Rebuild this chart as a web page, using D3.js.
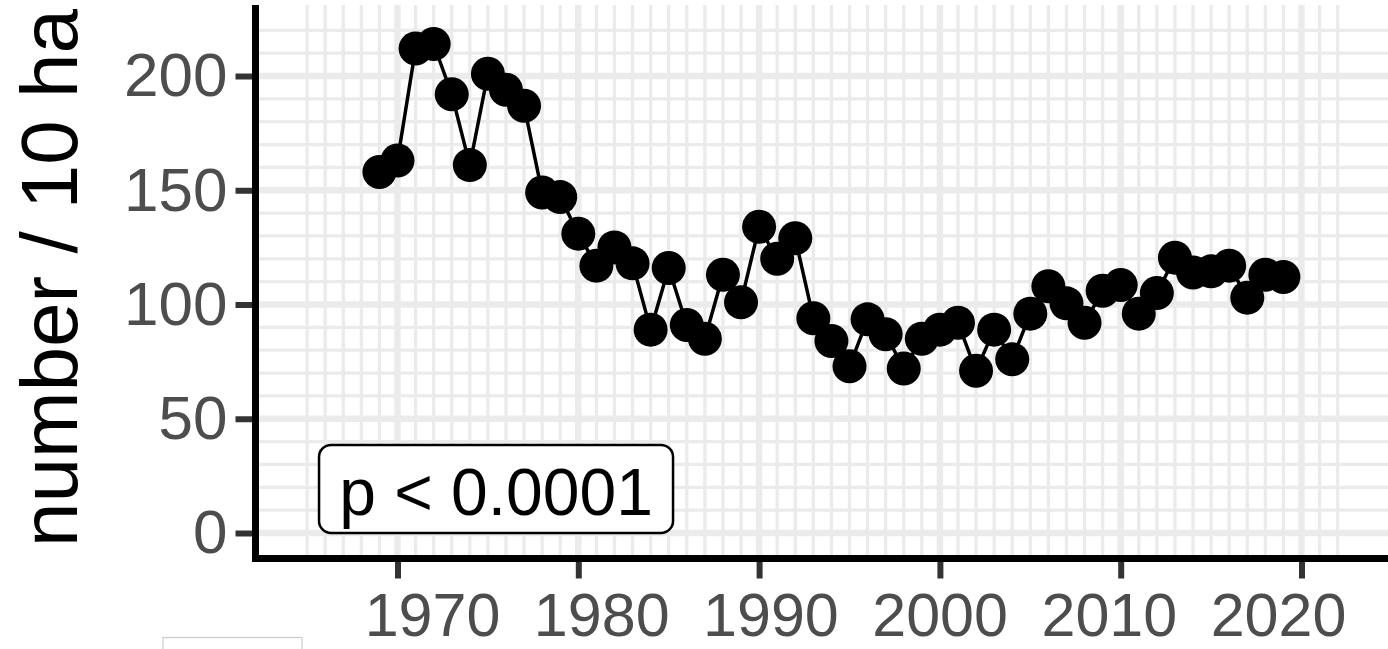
<!DOCTYPE html>
<html>
<head>
<meta charset="utf-8">
<script src="https://cdn.jsdelivr.net/npm/d3@7"></script>
<style>
  html, body { margin: 0; padding: 0; background: #ffffff; }
  svg { display: block; }
  text { font-family: "Liberation Sans", Arial, Helvetica, sans-serif; }
</style>
</head>
<body>
<svg id="chart" width="1388" height="649"></svg>
<script>
// Annual density, 1969-2019
const years = [
  1969, 1970, 1971, 1972, 1973, 1974, 1975, 1976, 1977, 1978,
  1979, 1980, 1981, 1982, 1983, 1984, 1985, 1986, 1987, 1988,
  1989, 1990, 1991, 1992, 1993, 1994, 1995, 1996, 1997, 1998,
  1999, 2000, 2001, 2002, 2003, 2004, 2005, 2006, 2007, 2008,
  2009, 2010, 2011, 2012, 2013, 2014, 2015, 2016, 2017, 2018,
  2019
];
const density = [
  158, 163, 212, 214, 192, 161, 201, 194, 187, 149,
  147, 131, 117, 125, 118, 89, 116, 91, 85, 113,
  101, 134, 120, 129, 94, 84, 73, 93.5, 87, 72,
  85, 89, 92, 71, 89, 76, 96, 108, 100.5, 92,
  106, 108.5, 96, 105, 120.5, 114, 114.5, 117, 103, 113,
  112
];
const yTicks = [0, 50, 100, 150, 200];
const xTicks = [1970, 1980, 1990, 2000, 2010, 2020];
const yTitle = "number / 10 ha";
const pLabel = "p < 0.0001";
const pAnchor = { year: 1975.45, value: 19.3 };

const svg = d3.select("#chart");

// panel bounds
const panel = { left: 256, right: 1388, top: 5, bottom: 555 };

const x = d3.scaleLinear().domain([1970, 2020]).range([397.5, 1301.5]);
const y = d3.scaleLinear().domain([0, 200]).range([533, 76]);
// tick labels sit on a slightly tighter spacing than the ticks
const xLabel = d3.scaleLinear().domain([1970, 2020]).range([432, 1278]);

const gridColor = "#ebebeb";

// ---- grid ----
const grid = svg.append("g");
const yMinor = d3.range(0, 221, 10).filter(v => v % 50 !== 0);
const yMajor = d3.range(0, 201, 50);
const xMinor = d3.range(1965, 2023).filter(v => v % 10 !== 0);
const xMajor = d3.range(1970, 2021, 10);

grid.selectAll(".ymin").data(yMinor).join("line")
  .attr("x1", panel.left).attr("x2", panel.right)
  .attr("y1", d => y(d)).attr("y2", d => y(d))
  .attr("stroke", gridColor).attr("stroke-width", 3.3);
grid.selectAll(".xmin").data(xMinor).join("line")
  .attr("y1", panel.top).attr("y2", panel.bottom)
  .attr("x1", d => x(d)).attr("x2", d => x(d))
  .attr("stroke", gridColor).attr("stroke-width", 3.3);
grid.selectAll(".ymaj").data(yMajor).join("line")
  .attr("x1", panel.left).attr("x2", panel.right)
  .attr("y1", d => y(d)).attr("y2", d => y(d))
  .attr("stroke", gridColor).attr("stroke-width", 6.5);
grid.selectAll(".xmaj").data(xMajor).join("line")
  .attr("y1", panel.top).attr("y2", panel.bottom)
  .attr("x1", d => x(d)).attr("x2", d => x(d))
  .attr("stroke", gridColor).attr("stroke-width", 6.5);

// ---- series ----
const pts = years.map((yr, i) => ({ year: yr, value: density[i] }));

svg.append("path")
  .datum(pts)
  .attr("fill", "none")
  .attr("stroke", "#000")
  .attr("stroke-width", 3.5)
  .attr("stroke-linejoin", "round")
  .attr("d", d3.line().x(d => x(d.year)).y(d => y(d.value)));

svg.append("g").selectAll("circle").data(pts).join("circle")
  .attr("cx", d => x(d.year))
  .attr("cy", d => y(d.value))
  .attr("r", 17)
  .attr("fill", "#000");

// ---- p-value label ----
const pg = svg.append("g")
  .attr("transform", `translate(${x(pAnchor.year)},${y(pAnchor.value)})`);
pg.append("rect")
  .attr("x", -177).attr("y", -44)
  .attr("width", 354).attr("height", 88)
  .attr("rx", 12).attr("ry", 12)
  .attr("fill", "#fff").attr("stroke", "#000").attr("stroke-width", 2.5);
pg.append("text")
  .attr("text-anchor", "middle")
  .attr("y", 26)
  .attr("font-size", 66)
  .attr("fill", "#000")
  .text(pLabel);

// ---- axes ----
const yAxis = svg.append("g")
  .attr("transform", "translate(255.5,0)")
  .call(d3.axisLeft(y).tickValues(yTicks).tickSize(20).tickPadding(8));
yAxis.select(".domain").remove();
yAxis.selectAll(".tick line").attr("stroke", "#333333").attr("stroke-width", 6);
yAxis.selectAll(".tick text")
  .attr("font-size", 62).attr("fill", "#4d4d4d")
  .attr("font-family", "'Liberation Sans', Arial, sans-serif");

const xAxis = svg.append("g")
  .attr("transform", "translate(0,558.5)")
  .call(d3.axisBottom(x).tickValues(xTicks).tickFormat(d3.format("d")).tickSize(20).tickPadding(14));
xAxis.select(".domain").remove();
xAxis.selectAll(".tick line").attr("stroke", "#333333").attr("stroke-width", 6);
xAxis.selectAll(".tick text")
  .attr("font-size", 61).attr("fill", "#4d4d4d")
  .attr("font-family", "'Liberation Sans', Arial, sans-serif")
  .attr("x", d => xLabel(d) - x(d));

// axis lines
svg.append("line")
  .attr("x1", 255.5).attr("x2", 255.5)
  .attr("y1", panel.top).attr("y2", 562)
  .attr("stroke", "#000").attr("stroke-width", 7);
svg.append("line")
  .attr("x1", 252).attr("x2", panel.right)
  .attr("y1", 558.5).attr("y2", 558.5)
  .attr("stroke", "#000").attr("stroke-width", 7);

// axis title
svg.append("text")
  .attr("transform", "translate(77,278) rotate(-90)")
  .attr("text-anchor", "middle")
  .attr("font-size", 80)
  .attr("fill", "#000")
  .text(yTitle);

// stray frame edge at the bottom
svg.append("rect")
  .attr("x", 163).attr("y", 637.5)
  .attr("width", 139).attr("height", 40)
  .attr("fill", "none").attr("stroke", "#cccccc").attr("stroke-width", 1.2);
</script>
</body>
</html>
